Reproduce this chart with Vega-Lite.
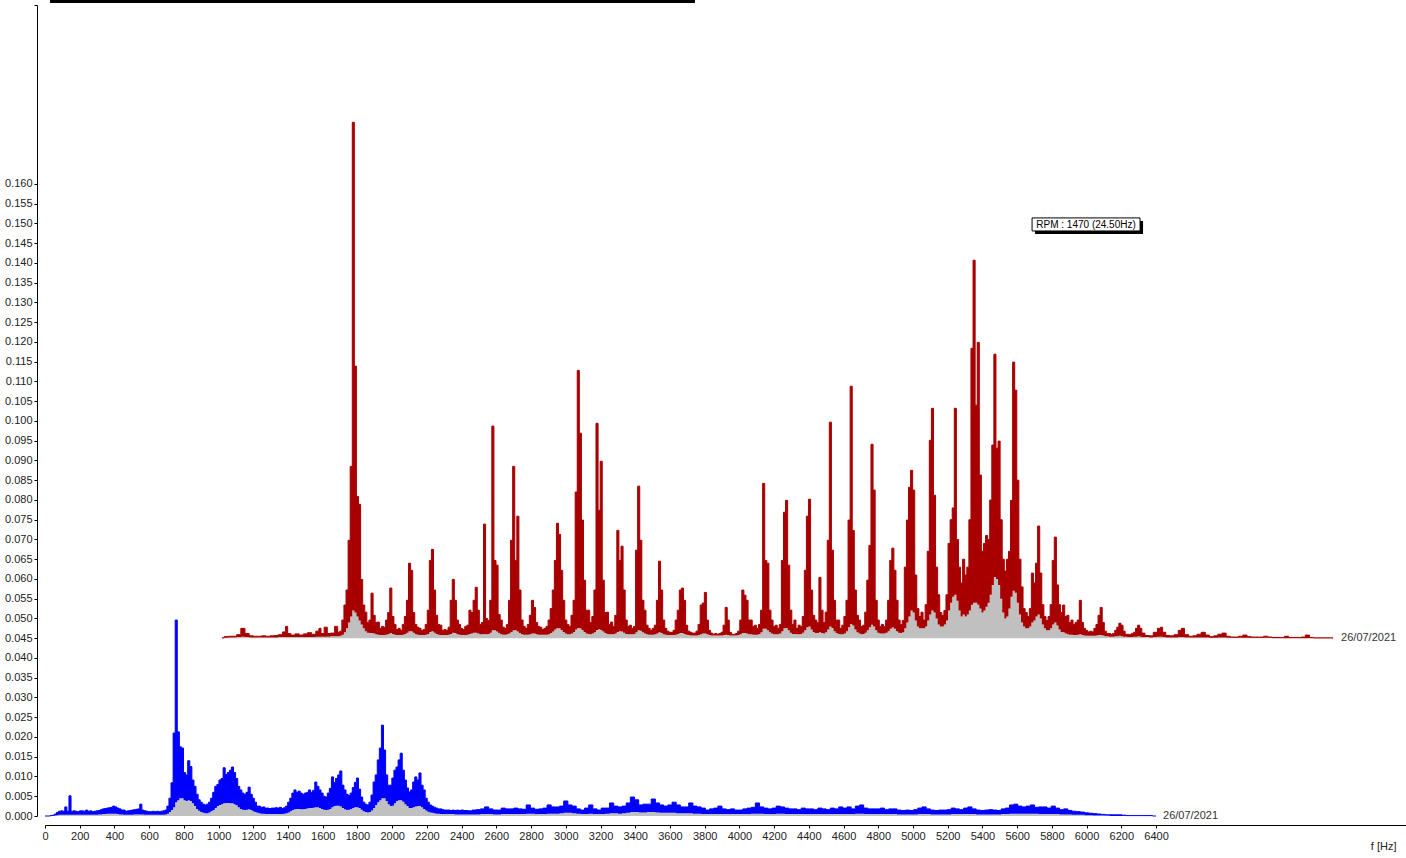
{
"$schema":"https://vega.github.io/schema/vega-lite/v6.json",
"width":1361,"height":811,
"autosize":{"type":"none"},
"padding":{"left":45,"top":5,"right":0,"bottom":42},
"background":"white",
"config":{"view":{"stroke":null},"font":"Liberation Sans","axis":{"labelFont":"Liberation Sans","titleFont":"Liberation Sans"}},
"datasets":{
"blue":[{"f":0,"l":0,"h":0},{"f":12,"l":0,"h":0},{"f":24,"l":0,"h":0},{"f":36,"l":0,"h":0.0001},{"f":48,"l":0,"h":0.0002},{"f":60,"l":0.0001,"h":0.0005},{"f":72,"l":0.0002,"h":0.0009},{"f":84,"l":0.0003,"h":0.0012},{"f":96,"l":0.0003,"h":0.0013},{"f":108,"l":0.0003,"h":0.0012},{"f":120,"l":0.0003,"h":0.0023},{"f":132,"l":0.0003,"h":0.0012},{"f":144,"l":0.0003,"h":0.0051},{"f":156,"l":0.0003,"h":0.0012},{"f":168,"l":0.0003,"h":0.0013},{"f":180,"l":0.0003,"h":0.0012},{"f":192,"l":0.0003,"h":0.0011},{"f":204,"l":0.0003,"h":0.0013},{"f":216,"l":0.0003,"h":0.0013},{"f":228,"l":0.0003,"h":0.0012},{"f":240,"l":0.0003,"h":0.0015},{"f":252,"l":0.0003,"h":0.0012},{"f":264,"l":0.0003,"h":0.0013},{"f":276,"l":0.0003,"h":0.0011},{"f":288,"l":0.0003,"h":0.0012},{"f":300,"l":0.0003,"h":0.0013},{"f":312,"l":0.0004,"h":0.0014},{"f":324,"l":0.0004,"h":0.0016},{"f":336,"l":0.0005,"h":0.0018},{"f":348,"l":0.0005,"h":0.0019},{"f":360,"l":0.0006,"h":0.002},{"f":372,"l":0.0006,"h":0.0021},{"f":384,"l":0.0006,"h":0.0022},{"f":396,"l":0.0006,"h":0.0025},{"f":408,"l":0.0006,"h":0.0023},{"f":420,"l":0.0005,"h":0.002},{"f":432,"l":0.0004,"h":0.0018},{"f":444,"l":0.0004,"h":0.0015},{"f":456,"l":0.0003,"h":0.0015},{"f":468,"l":0.0003,"h":0.0012},{"f":480,"l":0.0003,"h":0.0013},{"f":492,"l":0.0003,"h":0.0014},{"f":504,"l":0.0003,"h":0.0015},{"f":516,"l":0.0004,"h":0.0016},{"f":528,"l":0.0004,"h":0.0017},{"f":540,"l":0.0004,"h":0.0018},{"f":552,"l":0.0004,"h":0.003},{"f":564,"l":0.0004,"h":0.0015},{"f":576,"l":0.0003,"h":0.0013},{"f":588,"l":0.0003,"h":0.0012},{"f":600,"l":0.0003,"h":0.0011},{"f":612,"l":0.0003,"h":0.0011},{"f":624,"l":0.0003,"h":0.0012},{"f":636,"l":0.0003,"h":0.0011},{"f":648,"l":0.0003,"h":0.0012},{"f":660,"l":0.0003,"h":0.0011},{"f":672,"l":0.0003,"h":0.0012},{"f":684,"l":0.0003,"h":0.0013},{"f":696,"l":0.0004,"h":0.0015},{"f":708,"l":0.0006,"h":0.0025},{"f":720,"l":0.001,"h":0.0045},{"f":732,"l":0.0015,"h":0.0084},{"f":744,"l":0.0022,"h":0.021},{"f":756,"l":0.0035,"h":0.0496},{"f":768,"l":0.004,"h":0.0213},{"f":780,"l":0.0045,"h":0.0175},{"f":792,"l":0.0045,"h":0.0172},{"f":804,"l":0.004,"h":0.011},{"f":816,"l":0.0038,"h":0.0104},{"f":828,"l":0.004,"h":0.014},{"f":840,"l":0.0038,"h":0.0125},{"f":852,"l":0.0032,"h":0.0091},{"f":864,"l":0.0025,"h":0.0075},{"f":876,"l":0.0018,"h":0.0055},{"f":888,"l":0.0013,"h":0.0041},{"f":900,"l":0.001,"h":0.0035},{"f":912,"l":0.0008,"h":0.003},{"f":924,"l":0.0007,"h":0.0028},{"f":936,"l":0.0007,"h":0.003},{"f":948,"l":0.0009,"h":0.0035},{"f":960,"l":0.0012,"h":0.0045},{"f":972,"l":0.0015,"h":0.006},{"f":984,"l":0.002,"h":0.0075},{"f":996,"l":0.0025,"h":0.008},{"f":1008,"l":0.0028,"h":0.0091},{"f":1020,"l":0.003,"h":0.0095},{"f":1032,"l":0.0032,"h":0.0122},{"f":1044,"l":0.0033,"h":0.0105},{"f":1056,"l":0.0033,"h":0.011},{"f":1068,"l":0.0032,"h":0.0116},{"f":1080,"l":0.0032,"h":0.0124},{"f":1092,"l":0.003,"h":0.011},{"f":1104,"l":0.0027,"h":0.0095},{"f":1116,"l":0.0022,"h":0.0075},{"f":1128,"l":0.0018,"h":0.0066},{"f":1140,"l":0.0016,"h":0.0058},{"f":1152,"l":0.0015,"h":0.0055},{"f":1164,"l":0.0016,"h":0.006},{"f":1176,"l":0.0017,"h":0.0073},{"f":1188,"l":0.0015,"h":0.0055},{"f":1200,"l":0.0012,"h":0.0045},{"f":1212,"l":0.001,"h":0.0035},{"f":1224,"l":0.0008,"h":0.0025},{"f":1236,"l":0.0007,"h":0.0025},{"f":1248,"l":0.0006,"h":0.0022},{"f":1260,"l":0.0006,"h":0.0023},{"f":1272,"l":0.0005,"h":0.002},{"f":1284,"l":0.0005,"h":0.002},{"f":1296,"l":0.0005,"h":0.0019},{"f":1308,"l":0.0005,"h":0.002},{"f":1320,"l":0.0005,"h":0.002},{"f":1332,"l":0.0005,"h":0.0021},{"f":1344,"l":0.0005,"h":0.002},{"f":1356,"l":0.0005,"h":0.0022},{"f":1368,"l":0.0005,"h":0.0019},{"f":1380,"l":0.0006,"h":0.0021},{"f":1392,"l":0.0007,"h":0.0025},{"f":1404,"l":0.0009,"h":0.0035},{"f":1416,"l":0.0012,"h":0.0045},{"f":1428,"l":0.0015,"h":0.0058},{"f":1440,"l":0.0017,"h":0.0066},{"f":1452,"l":0.0018,"h":0.006},{"f":1464,"l":0.0018,"h":0.0063},{"f":1476,"l":0.0017,"h":0.0058},{"f":1488,"l":0.0017,"h":0.0055},{"f":1500,"l":0.0018,"h":0.0058},{"f":1512,"l":0.0019,"h":0.006},{"f":1524,"l":0.002,"h":0.0066},{"f":1536,"l":0.002,"h":0.006},{"f":1548,"l":0.0021,"h":0.0065},{"f":1560,"l":0.0022,"h":0.0086},{"f":1572,"l":0.0022,"h":0.0075},{"f":1584,"l":0.002,"h":0.0066},{"f":1596,"l":0.0018,"h":0.0058},{"f":1608,"l":0.0016,"h":0.005},{"f":1620,"l":0.0015,"h":0.0048},{"f":1632,"l":0.0016,"h":0.0058},{"f":1644,"l":0.0018,"h":0.007},{"f":1656,"l":0.0022,"h":0.0099},{"f":1668,"l":0.0025,"h":0.0085},{"f":1680,"l":0.0026,"h":0.0095},{"f":1692,"l":0.0026,"h":0.0104},{"f":1704,"l":0.0024,"h":0.0114},{"f":1716,"l":0.002,"h":0.0078},{"f":1728,"l":0.0017,"h":0.0066},{"f":1740,"l":0.0015,"h":0.0055},{"f":1752,"l":0.0016,"h":0.0052},{"f":1764,"l":0.0018,"h":0.0058},{"f":1776,"l":0.002,"h":0.0072},{"f":1788,"l":0.0022,"h":0.0085},{"f":1800,"l":0.0022,"h":0.0096},{"f":1812,"l":0.002,"h":0.0068},{"f":1824,"l":0.0016,"h":0.0048},{"f":1836,"l":0.0012,"h":0.0035},{"f":1848,"l":0.001,"h":0.003},{"f":1860,"l":0.0009,"h":0.0028},{"f":1872,"l":0.001,"h":0.0035},{"f":1884,"l":0.0014,"h":0.0053},{"f":1896,"l":0.002,"h":0.0086},{"f":1908,"l":0.0028,"h":0.0104},{"f":1920,"l":0.0035,"h":0.0142},{"f":1932,"l":0.004,"h":0.0172},{"f":1944,"l":0.0045,"h":0.023},{"f":1956,"l":0.0045,"h":0.0167},{"f":1968,"l":0.0038,"h":0.0104},{"f":1980,"l":0.003,"h":0.0078},{"f":1992,"l":0.0025,"h":0.0078},{"f":2004,"l":0.0026,"h":0.0096},{"f":2016,"l":0.0032,"h":0.0116},{"f":2028,"l":0.0038,"h":0.0124},{"f":2040,"l":0.004,"h":0.0142},{"f":2052,"l":0.004,"h":0.0159},{"f":2064,"l":0.0036,"h":0.0116},{"f":2076,"l":0.003,"h":0.0091},{"f":2088,"l":0.0025,"h":0.0071},{"f":2100,"l":0.002,"h":0.0061},{"f":2112,"l":0.002,"h":0.0066},{"f":2124,"l":0.0022,"h":0.0086},{"f":2136,"l":0.0024,"h":0.0099},{"f":2148,"l":0.0025,"h":0.0091},{"f":2160,"l":0.0025,"h":0.0109},{"f":2172,"l":0.0022,"h":0.0078},{"f":2184,"l":0.0018,"h":0.0066},{"f":2196,"l":0.0014,"h":0.0045},{"f":2208,"l":0.0011,"h":0.0035},{"f":2220,"l":0.0009,"h":0.0028},{"f":2232,"l":0.0008,"h":0.0025},{"f":2244,"l":0.0007,"h":0.0022},{"f":2256,"l":0.0006,"h":0.002},{"f":2268,"l":0.0006,"h":0.0018},{"f":2280,"l":0.0005,"h":0.0018},{"f":2292,"l":0.0005,"h":0.0016},{"f":2304,"l":0.0005,"h":0.0015},{"f":2316,"l":0.0005,"h":0.0015},{"f":2328,"l":0.0005,"h":0.0015},{"f":2340,"l":0.0005,"h":0.0014},{"f":2352,"l":0.0005,"h":0.0015},{"f":2364,"l":0.0004,"h":0.0014},{"f":2376,"l":0.0004,"h":0.0015},{"f":2388,"l":0.0004,"h":0.0014},{"f":2400,"l":0.0004,"h":0.0015},{"f":2424,"l":0.0004,"h":0.0014},{"f":2448,"l":0.0004,"h":0.0013},{"f":2472,"l":0.0004,"h":0.0015},{"f":2496,"l":0.0004,"h":0.0016},{"f":2520,"l":0.0005,"h":0.0018},{"f":2544,"l":0.0005,"h":0.0023},{"f":2568,"l":0.0005,"h":0.0018},{"f":2592,"l":0.0004,"h":0.0015},{"f":2616,"l":0.0004,"h":0.0015},{"f":2640,"l":0.0005,"h":0.002},{"f":2664,"l":0.0005,"h":0.0018},{"f":2688,"l":0.0005,"h":0.0018},{"f":2712,"l":0.0005,"h":0.002},{"f":2736,"l":0.0005,"h":0.0018},{"f":2760,"l":0.0005,"h":0.0017},{"f":2784,"l":0.0006,"h":0.0028},{"f":2808,"l":0.0006,"h":0.002},{"f":2832,"l":0.0005,"h":0.0017},{"f":2856,"l":0.0005,"h":0.0018},{"f":2880,"l":0.0005,"h":0.002},{"f":2904,"l":0.0006,"h":0.0028},{"f":2928,"l":0.0006,"h":0.0023},{"f":2952,"l":0.0006,"h":0.0023},{"f":2976,"l":0.0007,"h":0.0025},{"f":3000,"l":0.0008,"h":0.0038},{"f":3024,"l":0.0008,"h":0.0028},{"f":3048,"l":0.0007,"h":0.0025},{"f":3072,"l":0.0006,"h":0.0018},{"f":3096,"l":0.0005,"h":0.0015},{"f":3120,"l":0.0005,"h":0.002},{"f":3144,"l":0.0006,"h":0.0028},{"f":3168,"l":0.0005,"h":0.0018},{"f":3192,"l":0.0005,"h":0.0015},{"f":3216,"l":0.0005,"h":0.002},{"f":3240,"l":0.0006,"h":0.002},{"f":3264,"l":0.0007,"h":0.0033},{"f":3288,"l":0.0007,"h":0.0025},{"f":3312,"l":0.0006,"h":0.0023},{"f":3336,"l":0.0007,"h":0.0025},{"f":3360,"l":0.0008,"h":0.0033},{"f":3384,"l":0.001,"h":0.0048},{"f":3408,"l":0.001,"h":0.0041},{"f":3432,"l":0.0009,"h":0.0028},{"f":3456,"l":0.0009,"h":0.003},{"f":3480,"l":0.001,"h":0.003},{"f":3504,"l":0.001,"h":0.0043},{"f":3528,"l":0.0009,"h":0.0033},{"f":3552,"l":0.0008,"h":0.0028},{"f":3576,"l":0.0008,"h":0.0025},{"f":3600,"l":0.0008,"h":0.0028},{"f":3624,"l":0.0008,"h":0.0035},{"f":3648,"l":0.0007,"h":0.0028},{"f":3672,"l":0.0007,"h":0.0023},{"f":3696,"l":0.0007,"h":0.0023},{"f":3720,"l":0.0007,"h":0.0033},{"f":3744,"l":0.0006,"h":0.0025},{"f":3768,"l":0.0006,"h":0.0023},{"f":3792,"l":0.0005,"h":0.002},{"f":3816,"l":0.0005,"h":0.0015},{"f":3840,"l":0.0005,"h":0.0018},{"f":3864,"l":0.0005,"h":0.002},{"f":3888,"l":0.0005,"h":0.0025},{"f":3912,"l":0.0005,"h":0.0018},{"f":3936,"l":0.0005,"h":0.0016},{"f":3960,"l":0.0005,"h":0.0018},{"f":3984,"l":0.0005,"h":0.0015},{"f":4008,"l":0.0005,"h":0.0015},{"f":4032,"l":0.0005,"h":0.0018},{"f":4056,"l":0.0005,"h":0.002},{"f":4080,"l":0.0006,"h":0.0022},{"f":4104,"l":0.0006,"h":0.0033},{"f":4128,"l":0.0006,"h":0.0023},{"f":4152,"l":0.0005,"h":0.002},{"f":4176,"l":0.0005,"h":0.0018},{"f":4200,"l":0.0005,"h":0.002},{"f":4224,"l":0.0006,"h":0.0025},{"f":4248,"l":0.0006,"h":0.0023},{"f":4272,"l":0.0005,"h":0.002},{"f":4296,"l":0.0005,"h":0.0018},{"f":4320,"l":0.0005,"h":0.0018},{"f":4344,"l":0.0005,"h":0.0016},{"f":4368,"l":0.0005,"h":0.002},{"f":4392,"l":0.0005,"h":0.0018},{"f":4416,"l":0.0005,"h":0.0018},{"f":4440,"l":0.0005,"h":0.0016},{"f":4464,"l":0.0005,"h":0.002},{"f":4488,"l":0.0005,"h":0.0018},{"f":4512,"l":0.0005,"h":0.0016},{"f":4536,"l":0.0005,"h":0.002},{"f":4560,"l":0.0005,"h":0.0018},{"f":4584,"l":0.0005,"h":0.0023},{"f":4608,"l":0.0005,"h":0.002},{"f":4632,"l":0.0005,"h":0.0023},{"f":4656,"l":0.0005,"h":0.0018},{"f":4680,"l":0.0006,"h":0.0025},{"f":4704,"l":0.0006,"h":0.0028},{"f":4728,"l":0.0005,"h":0.002},{"f":4752,"l":0.0005,"h":0.0018},{"f":4776,"l":0.0005,"h":0.0018},{"f":4800,"l":0.0005,"h":0.0018},{"f":4824,"l":0.0005,"h":0.002},{"f":4848,"l":0.0005,"h":0.0016},{"f":4872,"l":0.0005,"h":0.0018},{"f":4896,"l":0.0005,"h":0.0018},{"f":4920,"l":0.0004,"h":0.0015},{"f":4944,"l":0.0004,"h":0.0014},{"f":4968,"l":0.0004,"h":0.0015},{"f":4992,"l":0.0004,"h":0.0014},{"f":5016,"l":0.0004,"h":0.0016},{"f":5040,"l":0.0005,"h":0.002},{"f":5064,"l":0.0005,"h":0.0023},{"f":5088,"l":0.0005,"h":0.0018},{"f":5112,"l":0.0004,"h":0.0015},{"f":5136,"l":0.0004,"h":0.0014},{"f":5160,"l":0.0004,"h":0.0015},{"f":5184,"l":0.0004,"h":0.0015},{"f":5208,"l":0.0004,"h":0.0016},{"f":5232,"l":0.0005,"h":0.002},{"f":5256,"l":0.0005,"h":0.0018},{"f":5280,"l":0.0005,"h":0.0016},{"f":5304,"l":0.0005,"h":0.002},{"f":5328,"l":0.0005,"h":0.0023},{"f":5352,"l":0.0005,"h":0.0018},{"f":5376,"l":0.0004,"h":0.0015},{"f":5400,"l":0.0004,"h":0.0014},{"f":5424,"l":0.0004,"h":0.0015},{"f":5448,"l":0.0004,"h":0.0016},{"f":5472,"l":0.0004,"h":0.0015},{"f":5496,"l":0.0004,"h":0.0014},{"f":5520,"l":0.0005,"h":0.0018},{"f":5544,"l":0.0005,"h":0.002},{"f":5568,"l":0.0006,"h":0.0028},{"f":5592,"l":0.0006,"h":0.003},{"f":5616,"l":0.0006,"h":0.0025},{"f":5640,"l":0.0006,"h":0.0023},{"f":5664,"l":0.0006,"h":0.0025},{"f":5688,"l":0.0006,"h":0.0028},{"f":5712,"l":0.0006,"h":0.0022},{"f":5736,"l":0.0005,"h":0.0023},{"f":5760,"l":0.0005,"h":0.0023},{"f":5784,"l":0.0005,"h":0.002},{"f":5808,"l":0.0005,"h":0.0025},{"f":5832,"l":0.0005,"h":0.002},{"f":5856,"l":0.0004,"h":0.0016},{"f":5880,"l":0.0004,"h":0.0018},{"f":5904,"l":0.0004,"h":0.0014},{"f":5928,"l":0.0003,"h":0.0012},{"f":5952,"l":0.0003,"h":0.0011},{"f":5976,"l":0.0003,"h":0.001},{"f":6000,"l":0.0002,"h":0.0008},{"f":6024,"l":0.0002,"h":0.0007},{"f":6048,"l":0.0001,"h":0.0006},{"f":6072,"l":0.0001,"h":0.0005},{"f":6096,"l":0.0001,"h":0.0004},{"f":6120,"l":0.0001,"h":0.0003},{"f":6144,"l":0,"h":0.0003},{"f":6168,"l":0,"h":0.0003},{"f":6192,"l":0,"h":0.0003},{"f":6216,"l":0,"h":0.0002},{"f":6240,"l":0,"h":0.0001},{"f":6264,"l":0,"h":0.0001},{"f":6288,"l":0,"h":0.0001},{"f":6312,"l":0,"h":0.0001},{"f":6336,"l":0,"h":0.0001},{"f":6360,"l":0,"h":0.0001},{"f":6400,"l":0,"h":0}],
"red":[{"f":0,"l":0,"h":0.0001},{"f":24,"l":0.0001,"h":0.0004},{"f":48,"l":0.0002,"h":0.0005},{"f":72,"l":0.0002,"h":0.0005},{"f":96,"l":0.0003,"h":0.0009},{"f":120,"l":0.0004,"h":0.0025},{"f":144,"l":0.0003,"h":0.0012},{"f":168,"l":0.0002,"h":0.0006},{"f":192,"l":0.0002,"h":0.0005},{"f":216,"l":0.0002,"h":0.0005},{"f":240,"l":0.0002,"h":0.0006},{"f":264,"l":0.0002,"h":0.0005},{"f":288,"l":0.0002,"h":0.0006},{"f":312,"l":0.0002,"h":0.0007},{"f":336,"l":0.0003,"h":0.0009},{"f":360,"l":0.0003,"h":0.0016},{"f":372,"l":0.0003,"h":0.003},{"f":384,"l":0.0003,"h":0.0012},{"f":408,"l":0.0003,"h":0.0008},{"f":432,"l":0.0003,"h":0.0011},{"f":456,"l":0.0003,"h":0.0008},{"f":480,"l":0.0003,"h":0.0011},{"f":504,"l":0.0003,"h":0.0014},{"f":528,"l":0.0003,"h":0.001},{"f":552,"l":0.0004,"h":0.0018},{"f":564,"l":0.0004,"h":0.0025},{"f":576,"l":0.0004,"h":0.0012},{"f":600,"l":0.0004,"h":0.0028},{"f":612,"l":0.0004,"h":0.0012},{"f":636,"l":0.0005,"h":0.0013},{"f":660,"l":0.0005,"h":0.003},{"f":672,"l":0.0005,"h":0.0015},{"f":684,"l":0.0006,"h":0.0018},{"f":696,"l":0.0009,"h":0.0046},{"f":708,"l":0.0015,"h":0.0084},{"f":720,"l":0.0025,"h":0.0122},{"f":732,"l":0.004,"h":0.0248},{"f":744,"l":0.0055,"h":0.0435},{"f":756,"l":0.007,"h":0.1306},{"f":768,"l":0.0065,"h":0.0689},{"f":780,"l":0.0055,"h":0.0359},{"f":792,"l":0.0045,"h":0.0339},{"f":804,"l":0.0035,"h":0.0149},{"f":816,"l":0.0025,"h":0.0084},{"f":828,"l":0.0018,"h":0.0066},{"f":840,"l":0.0014,"h":0.004},{"f":852,"l":0.0013,"h":0.0046},{"f":864,"l":0.0013,"h":0.0114},{"f":876,"l":0.0012,"h":0.0058},{"f":888,"l":0.001,"h":0.004},{"f":900,"l":0.0009,"h":0.0041},{"f":912,"l":0.0008,"h":0.0025},{"f":924,"l":0.0008,"h":0.003},{"f":936,"l":0.0008,"h":0.0028},{"f":948,"l":0.0009,"h":0.0046},{"f":960,"l":0.0011,"h":0.0065},{"f":972,"l":0.0013,"h":0.0127},{"f":984,"l":0.0011,"h":0.0055},{"f":996,"l":0.0009,"h":0.0035},{"f":1008,"l":0.0008,"h":0.0022},{"f":1020,"l":0.0008,"h":0.0025},{"f":1032,"l":0.0008,"h":0.002},{"f":1044,"l":0.0009,"h":0.0035},{"f":1056,"l":0.0011,"h":0.0055},{"f":1068,"l":0.0014,"h":0.0096},{"f":1080,"l":0.0018,"h":0.019},{"f":1092,"l":0.0018,"h":0.0172},{"f":1104,"l":0.0014,"h":0.0065},{"f":1116,"l":0.001,"h":0.0035},{"f":1128,"l":0.0009,"h":0.0028},{"f":1140,"l":0.0008,"h":0.0025},{"f":1152,"l":0.0008,"h":0.002},{"f":1164,"l":0.0008,"h":0.0022},{"f":1176,"l":0.0009,"h":0.0035},{"f":1188,"l":0.0011,"h":0.0071},{"f":1200,"l":0.0016,"h":0.0197},{"f":1212,"l":0.0018,"h":0.0225},{"f":1224,"l":0.0014,"h":0.0122},{"f":1236,"l":0.0011,"h":0.0058},{"f":1248,"l":0.0009,"h":0.0035},{"f":1260,"l":0.0008,"h":0.0033},{"f":1272,"l":0.0008,"h":0.002},{"f":1284,"l":0.0008,"h":0.0022},{"f":1296,"l":0.0008,"h":0.002},{"f":1308,"l":0.0009,"h":0.0028},{"f":1320,"l":0.0011,"h":0.0096},{"f":1332,"l":0.0014,"h":0.0149},{"f":1344,"l":0.0013,"h":0.0096},{"f":1356,"l":0.001,"h":0.0046},{"f":1368,"l":0.0009,"h":0.0035},{"f":1380,"l":0.0008,"h":0.0025},{"f":1392,"l":0.0008,"h":0.0022},{"f":1404,"l":0.0008,"h":0.003},{"f":1416,"l":0.0009,"h":0.0033},{"f":1428,"l":0.0011,"h":0.0071},{"f":1440,"l":0.0012,"h":0.0065},{"f":1452,"l":0.0014,"h":0.0096},{"f":1464,"l":0.0014,"h":0.0129},{"f":1476,"l":0.0012,"h":0.0071},{"f":1488,"l":0.001,"h":0.0035},{"f":1500,"l":0.001,"h":0.004},{"f":1512,"l":0.0011,"h":0.0289},{"f":1524,"l":0.001,"h":0.005},{"f":1536,"l":0.0011,"h":0.0045},{"f":1548,"l":0.0014,"h":0.0096},{"f":1560,"l":0.002,"h":0.0537},{"f":1572,"l":0.002,"h":0.0197},{"f":1584,"l":0.0017,"h":0.0185},{"f":1596,"l":0.0013,"h":0.006},{"f":1608,"l":0.001,"h":0.0046},{"f":1620,"l":0.0009,"h":0.0028},{"f":1632,"l":0.0009,"h":0.0025},{"f":1644,"l":0.001,"h":0.0035},{"f":1656,"l":0.0012,"h":0.0096},{"f":1668,"l":0.0016,"h":0.0248},{"f":1680,"l":0.002,"h":0.0435},{"f":1692,"l":0.002,"h":0.0197},{"f":1704,"l":0.0017,"h":0.0309},{"f":1716,"l":0.0013,"h":0.0122},{"f":1728,"l":0.001,"h":0.0046},{"f":1740,"l":0.0009,"h":0.003},{"f":1752,"l":0.0009,"h":0.0025},{"f":1764,"l":0.0009,"h":0.0035},{"f":1776,"l":0.001,"h":0.0058},{"f":1788,"l":0.0012,"h":0.0096},{"f":1800,"l":0.0012,"h":0.0078},{"f":1812,"l":0.001,"h":0.004},{"f":1824,"l":0.0009,"h":0.003},{"f":1836,"l":0.0009,"h":0.0028},{"f":1848,"l":0.0009,"h":0.0022},{"f":1860,"l":0.0009,"h":0.0025},{"f":1872,"l":0.0009,"h":0.003},{"f":1884,"l":0.001,"h":0.0046},{"f":1896,"l":0.0013,"h":0.0075},{"f":1908,"l":0.0017,"h":0.0122},{"f":1920,"l":0.0022,"h":0.0197},{"f":1932,"l":0.0025,"h":0.0291},{"f":1944,"l":0.0025,"h":0.0263},{"f":1956,"l":0.0021,"h":0.0172},{"f":1968,"l":0.0016,"h":0.0096},{"f":1980,"l":0.0012,"h":0.0046},{"f":1992,"l":0.001,"h":0.0035},{"f":2004,"l":0.001,"h":0.003},{"f":2016,"l":0.0012,"h":0.0058},{"f":2028,"l":0.0016,"h":0.0096},{"f":2040,"l":0.0022,"h":0.037},{"f":2052,"l":0.0026,"h":0.0678},{"f":2064,"l":0.0025,"h":0.0519},{"f":2076,"l":0.0021,"h":0.0299},{"f":2088,"l":0.0016,"h":0.0147},{"f":2100,"l":0.0012,"h":0.0071},{"f":2112,"l":0.0011,"h":0.0071},{"f":2124,"l":0.001,"h":0.004},{"f":2136,"l":0.0012,"h":0.0055},{"f":2148,"l":0.0015,"h":0.0122},{"f":2160,"l":0.0021,"h":0.0544},{"f":2172,"l":0.0023,"h":0.0324},{"f":2184,"l":0.0021,"h":0.0448},{"f":2196,"l":0.0017,"h":0.0147},{"f":2208,"l":0.0013,"h":0.0065},{"f":2220,"l":0.0011,"h":0.0066},{"f":2232,"l":0.001,"h":0.0035},{"f":2244,"l":0.001,"h":0.0041},{"f":2256,"l":0.001,"h":0.003},{"f":2268,"l":0.0012,"h":0.0058},{"f":2280,"l":0.0016,"h":0.0273},{"f":2292,"l":0.0018,"h":0.0197},{"f":2304,"l":0.0017,"h":0.0233},{"f":2316,"l":0.0014,"h":0.0122},{"f":2328,"l":0.0011,"h":0.0046},{"f":2340,"l":0.001,"h":0.003},{"f":2352,"l":0.001,"h":0.0033},{"f":2364,"l":0.001,"h":0.0025},{"f":2376,"l":0.0011,"h":0.003},{"f":2388,"l":0.0015,"h":0.0223},{"f":2400,"l":0.002,"h":0.0385},{"f":2412,"l":0.0019,"h":0.0248},{"f":2424,"l":0.0015,"h":0.0096},{"f":2436,"l":0.0012,"h":0.0071},{"f":2448,"l":0.001,"h":0.0033},{"f":2460,"l":0.0009,"h":0.0025},{"f":2472,"l":0.0009,"h":0.002},{"f":2484,"l":0.0009,"h":0.0025},{"f":2496,"l":0.001,"h":0.0033},{"f":2508,"l":0.0012,"h":0.0096},{"f":2520,"l":0.0015,"h":0.0195},{"f":2532,"l":0.0013,"h":0.0122},{"f":2544,"l":0.001,"h":0.0046},{"f":2556,"l":0.0009,"h":0.0025},{"f":2568,"l":0.0008,"h":0.0018},{"f":2580,"l":0.0008,"h":0.0015},{"f":2592,"l":0.0008,"h":0.0015},{"f":2604,"l":0.0008,"h":0.002},{"f":2616,"l":0.0009,"h":0.0046},{"f":2628,"l":0.0011,"h":0.0071},{"f":2640,"l":0.0013,"h":0.0122},{"f":2652,"l":0.0013,"h":0.0127},{"f":2664,"l":0.0011,"h":0.0096},{"f":2676,"l":0.0009,"h":0.0033},{"f":2688,"l":0.0008,"h":0.0018},{"f":2700,"l":0.0007,"h":0.0015},{"f":2712,"l":0.0007,"h":0.0013},{"f":2724,"l":0.0007,"h":0.0013},{"f":2736,"l":0.0007,"h":0.0018},{"f":2748,"l":0.0008,"h":0.0035},{"f":2760,"l":0.001,"h":0.0084},{"f":2772,"l":0.0012,"h":0.0089},{"f":2784,"l":0.0012,"h":0.0116},{"f":2796,"l":0.001,"h":0.0046},{"f":2808,"l":0.0008,"h":0.002},{"f":2820,"l":0.0007,"h":0.0013},{"f":2832,"l":0.0007,"h":0.001},{"f":2844,"l":0.0007,"h":0.0012},{"f":2856,"l":0.0007,"h":0.001},{"f":2868,"l":0.0007,"h":0.0012},{"f":2880,"l":0.0007,"h":0.0015},{"f":2892,"l":0.0008,"h":0.0033},{"f":2904,"l":0.0009,"h":0.0078},{"f":2916,"l":0.0008,"h":0.0046},{"f":2928,"l":0.0007,"h":0.0015},{"f":2940,"l":0.0007,"h":0.001},{"f":2952,"l":0.0007,"h":0.001},{"f":2964,"l":0.0007,"h":0.0012},{"f":2976,"l":0.0008,"h":0.0018},{"f":2988,"l":0.001,"h":0.0046},{"f":3000,"l":0.0013,"h":0.0122},{"f":3012,"l":0.0013,"h":0.0109},{"f":3024,"l":0.0012,"h":0.0096},{"f":3036,"l":0.001,"h":0.0046},{"f":3048,"l":0.001,"h":0.0046},{"f":3060,"l":0.0009,"h":0.003},{"f":3072,"l":0.0009,"h":0.0033},{"f":3084,"l":0.0009,"h":0.0025},{"f":3096,"l":0.0011,"h":0.0035},{"f":3108,"l":0.0015,"h":0.0071},{"f":3120,"l":0.0024,"h":0.0392},{"f":3132,"l":0.0024,"h":0.0197},{"f":3144,"l":0.002,"h":0.019},{"f":3156,"l":0.0015,"h":0.0071},{"f":3168,"l":0.0012,"h":0.0046},{"f":3180,"l":0.001,"h":0.003},{"f":3192,"l":0.001,"h":0.0033},{"f":3204,"l":0.001,"h":0.0025},{"f":3216,"l":0.0012,"h":0.0035},{"f":3228,"l":0.0018,"h":0.0197},{"f":3240,"l":0.0025,"h":0.0319},{"f":3252,"l":0.0026,"h":0.0349},{"f":3264,"l":0.002,"h":0.0185},{"f":3276,"l":0.0014,"h":0.0071},{"f":3288,"l":0.0011,"h":0.0035},{"f":3300,"l":0.0011,"h":0.0046},{"f":3312,"l":0.001,"h":0.0025},{"f":3324,"l":0.001,"h":0.0033},{"f":3336,"l":0.0011,"h":0.003},{"f":3348,"l":0.0014,"h":0.0055},{"f":3360,"l":0.002,"h":0.0172},{"f":3372,"l":0.0028,"h":0.0309},{"f":3384,"l":0.003,"h":0.0352},{"f":3396,"l":0.0022,"h":0.0122},{"f":3408,"l":0.0016,"h":0.0058},{"f":3420,"l":0.0013,"h":0.0046},{"f":3432,"l":0.0013,"h":0.004},{"f":3444,"l":0.0015,"h":0.0154},{"f":3456,"l":0.0013,"h":0.0071},{"f":3468,"l":0.0012,"h":0.004},{"f":3480,"l":0.0015,"h":0.0066},{"f":3492,"l":0.0022,"h":0.0248},{"f":3504,"l":0.003,"h":0.0547},{"f":3516,"l":0.0026,"h":0.0223},{"f":3528,"l":0.0018,"h":0.0096},{"f":3540,"l":0.0013,"h":0.0046},{"f":3552,"l":0.0011,"h":0.0046},{"f":3564,"l":0.001,"h":0.0025},{"f":3576,"l":0.001,"h":0.0033},{"f":3588,"l":0.0012,"h":0.0055},{"f":3600,"l":0.0018,"h":0.0096},{"f":3612,"l":0.0028,"h":0.0299},{"f":3624,"l":0.0036,"h":0.0638},{"f":3636,"l":0.0032,"h":0.0273},{"f":3648,"l":0.0022,"h":0.0122},{"f":3660,"l":0.0015,"h":0.0058},{"f":3672,"l":0.0012,"h":0.0046},{"f":3684,"l":0.001,"h":0.003},{"f":3696,"l":0.0011,"h":0.0033},{"f":3708,"l":0.0014,"h":0.0066},{"f":3720,"l":0.002,"h":0.0147},{"f":3732,"l":0.0028,"h":0.0235},{"f":3744,"l":0.0034,"h":0.0491},{"f":3756,"l":0.003,"h":0.0375},{"f":3768,"l":0.002,"h":0.0096},{"f":3780,"l":0.0014,"h":0.0046},{"f":3792,"l":0.0012,"h":0.003},{"f":3804,"l":0.0012,"h":0.0035},{"f":3816,"l":0.0012,"h":0.003},{"f":3828,"l":0.0014,"h":0.0046},{"f":3840,"l":0.0018,"h":0.0096},{"f":3852,"l":0.0024,"h":0.0197},{"f":3864,"l":0.0027,"h":0.0228},{"f":3876,"l":0.0024,"h":0.0172},{"f":3888,"l":0.0018,"h":0.0096},{"f":3900,"l":0.0014,"h":0.0046},{"f":3912,"l":0.0013,"h":0.0035},{"f":3924,"l":0.0015,"h":0.0045},{"f":3936,"l":0.0025,"h":0.018},{"f":3948,"l":0.004,"h":0.0299},{"f":3960,"l":0.0055,"h":0.0382},{"f":3972,"l":0.007,"h":0.0425},{"f":3984,"l":0.0065,"h":0.0375},{"f":3996,"l":0.0045,"h":0.016},{"f":4008,"l":0.003,"h":0.0075},{"f":4020,"l":0.0025,"h":0.0055},{"f":4032,"l":0.0025,"h":0.0066},{"f":4044,"l":0.0025,"h":0.0046},{"f":4056,"l":0.003,"h":0.0085},{"f":4068,"l":0.0045,"h":0.022},{"f":4080,"l":0.006,"h":0.0501},{"f":4092,"l":0.007,"h":0.0582},{"f":4104,"l":0.0065,"h":0.0362},{"f":4116,"l":0.005,"h":0.018},{"f":4128,"l":0.0035,"h":0.011},{"f":4140,"l":0.003,"h":0.0065},{"f":4152,"l":0.003,"h":0.0058},{"f":4164,"l":0.0035,"h":0.007},{"f":4176,"l":0.0045,"h":0.011},{"f":4188,"l":0.007,"h":0.024},{"f":4200,"l":0.009,"h":0.03},{"f":4212,"l":0.0105,"h":0.033},{"f":4224,"l":0.011,"h":0.0582},{"f":4236,"l":0.0095,"h":0.025},{"f":4248,"l":0.007,"h":0.018},{"f":4260,"l":0.0055,"h":0.014},{"f":4272,"l":0.006,"h":0.02},{"f":4284,"l":0.0055,"h":0.016},{"f":4296,"l":0.006,"h":0.018},{"f":4308,"l":0.007,"h":0.03},{"f":4320,"l":0.0085,"h":0.0734},{"f":4332,"l":0.009,"h":0.0957},{"f":4344,"l":0.009,"h":0.059},{"f":4356,"l":0.0085,"h":0.0749},{"f":4368,"l":0.0075,"h":0.0413},{"f":4380,"l":0.0065,"h":0.022},{"f":4392,"l":0.007,"h":0.024},{"f":4404,"l":0.008,"h":0.026},{"f":4416,"l":0.009,"h":0.025},{"f":4428,"l":0.011,"h":0.035},{"f":4440,"l":0.0135,"h":0.0489},{"f":4452,"l":0.0155,"h":0.0719},{"f":4464,"l":0.015,"h":0.0481},{"f":4476,"l":0.0135,"h":0.0499},{"f":4488,"l":0.01,"h":0.03},{"f":4500,"l":0.0065,"h":0.02},{"f":4512,"l":0.005,"h":0.017},{"f":4524,"l":0.0055,"h":0.02},{"f":4536,"l":0.0075,"h":0.022},{"f":4548,"l":0.0105,"h":0.0349},{"f":4560,"l":0.012,"h":0.0699},{"f":4572,"l":0.0115,"h":0.0628},{"f":4584,"l":0.009,"h":0.04},{"f":4596,"l":0.006,"h":0.02},{"f":4608,"l":0.004,"h":0.013},{"f":4620,"l":0.003,"h":0.0075},{"f":4632,"l":0.0025,"h":0.0065},{"f":4644,"l":0.0025,"h":0.0055},{"f":4656,"l":0.003,"h":0.0075},{"f":4668,"l":0.004,"h":0.0165},{"f":4680,"l":0.0045,"h":0.014},{"f":4692,"l":0.0055,"h":0.019},{"f":4704,"l":0.006,"h":0.0284},{"f":4716,"l":0.005,"h":0.0165},{"f":4728,"l":0.0035,"h":0.0085},{"f":4740,"l":0.0025,"h":0.0055},{"f":4752,"l":0.002,"h":0.0045},{"f":4764,"l":0.002,"h":0.0055},{"f":4776,"l":0.0025,"h":0.0085},{"f":4788,"l":0.0035,"h":0.0197},{"f":4800,"l":0.004,"h":0.0256},{"f":4812,"l":0.0032,"h":0.0135},{"f":4824,"l":0.0022,"h":0.0085},{"f":4836,"l":0.0016,"h":0.0065},{"f":4848,"l":0.0015,"h":0.0084},{"f":4860,"l":0.0012,"h":0.0055},{"f":4872,"l":0.001,"h":0.0058},{"f":4884,"l":0.0009,"h":0.004},{"f":4896,"l":0.0009,"h":0.0046},{"f":4908,"l":0.0008,"h":0.0035},{"f":4920,"l":0.0008,"h":0.004},{"f":4932,"l":0.0009,"h":0.0046},{"f":4944,"l":0.001,"h":0.0096},{"f":4956,"l":0.0008,"h":0.004},{"f":4968,"l":0.0007,"h":0.0025},{"f":4980,"l":0.0006,"h":0.002},{"f":4992,"l":0.0006,"h":0.0016},{"f":5004,"l":0.0006,"h":0.0018},{"f":5016,"l":0.0006,"h":0.0016},{"f":5028,"l":0.0006,"h":0.0025},{"f":5040,"l":0.0007,"h":0.0035},{"f":5052,"l":0.0008,"h":0.0058},{"f":5064,"l":0.0008,"h":0.0078},{"f":5076,"l":0.0007,"h":0.004},{"f":5088,"l":0.0005,"h":0.0018},{"f":5100,"l":0.0005,"h":0.0012},{"f":5112,"l":0.0004,"h":0.0012},{"f":5124,"l":0.0004,"h":0.001},{"f":5136,"l":0.0004,"h":0.0012},{"f":5148,"l":0.0005,"h":0.002},{"f":5160,"l":0.0005,"h":0.0028},{"f":5172,"l":0.0006,"h":0.0038},{"f":5184,"l":0.0005,"h":0.0033},{"f":5196,"l":0.0004,"h":0.0018},{"f":5208,"l":0.0004,"h":0.001},{"f":5220,"l":0.0003,"h":0.001},{"f":5232,"l":0.0003,"h":0.0009},{"f":5244,"l":0.0003,"h":0.0012},{"f":5256,"l":0.0004,"h":0.0015},{"f":5268,"l":0.0004,"h":0.0025},{"f":5280,"l":0.0005,"h":0.0033},{"f":5292,"l":0.0004,"h":0.0025},{"f":5304,"l":0.0003,"h":0.0013},{"f":5328,"l":0.0003,"h":0.0007},{"f":5352,"l":0.0002,"h":0.0006},{"f":5376,"l":0.0003,"h":0.0015},{"f":5400,"l":0.0004,"h":0.0025},{"f":5412,"l":0.0004,"h":0.0028},{"f":5424,"l":0.0003,"h":0.0015},{"f":5448,"l":0.0002,"h":0.0007},{"f":5472,"l":0.0002,"h":0.0006},{"f":5496,"l":0.0002,"h":0.0009},{"f":5520,"l":0.0003,"h":0.002},{"f":5532,"l":0.0003,"h":0.0025},{"f":5556,"l":0.0002,"h":0.0009},{"f":5580,"l":0.0002,"h":0.0005},{"f":5604,"l":0.0002,"h":0.0006},{"f":5628,"l":0.0002,"h":0.001},{"f":5652,"l":0.0002,"h":0.0015},{"f":5676,"l":0.0002,"h":0.0008},{"f":5700,"l":0.0001,"h":0.0004},{"f":5724,"l":0.0001,"h":0.0006},{"f":5748,"l":0.0002,"h":0.001},{"f":5772,"l":0.0002,"h":0.0013},{"f":5796,"l":0.0001,"h":0.0005},{"f":5820,"l":0.0001,"h":0.0003},{"f":5844,"l":0.0001,"h":0.0003},{"f":5868,"l":0.0001,"h":0.0005},{"f":5892,"l":0.0001,"h":0.0008},{"f":5916,"l":0.0001,"h":0.0004},{"f":5940,"l":0.0001,"h":0.0003},{"f":5964,"l":0.0001,"h":0.0003},{"f":5988,"l":0.0001,"h":0.0003},{"f":6012,"l":0.0001,"h":0.0005},{"f":6036,"l":0.0001,"h":0.0003},{"f":6060,"l":0,"h":0.0002},{"f":6084,"l":0,"h":0.0002},{"f":6108,"l":0,"h":0.0002},{"f":6132,"l":0,"h":0.0005},{"f":6156,"l":0,"h":0.0002},{"f":6180,"l":0,"h":0.0002},{"f":6204,"l":0,"h":0.0002},{"f":6228,"l":0,"h":0.0003},{"f":6252,"l":0,"h":0.0008},{"f":6276,"l":0,"h":0.0002},{"f":6300,"l":0,"h":0.0001},{"f":6324,"l":0,"h":0.0001},{"f":6348,"l":0,"h":0.0001},{"f":6372,"l":0,"h":0.0001},{"f":6400,"l":0,"h":0.0001}]
},
"layer":[
{
"encoding":{
"x":{"field":"f","type":"quantitative","scale":{"domain":[0,7840],"nice":false,"zero":false},
"axis":{"values":[0,200,400,600,800,1000,1200,1400,1600,1800,2000,2200,2400,2600,2800,3000,3200,3400,3600,3800,4000,4200,4400,4600,4800,5000,5200,5400,5600,5800,6000,6200,6400],
"format":"d","offset":9,"grid":false,"domainColor":"#000000","tickColor":"#000000","tickSize":3,"labelColor":"#222222","labelFontSize":11,"labelPadding":2,"labelFlush":false,"labelOverlap":false,
"title":"f [Hz]","titleFontSize":11,"titleFontWeight":"normal","titleColor":"#222222","titleX":1351,"titleY":21,"titleAlign":"right","titleBaseline":"middle","titleAnchor":"end"}},
"y":{"field":"h","type":"quantitative","scale":{"domain":[0,0.2053],"nice":false,"zero":false},
"axis":{"values":[0,0.005,0.01,0.015,0.02,0.025,0.03,0.035,0.04,0.045,0.05,0.055,0.06,0.065,0.07,0.075,0.08,0.085,0.09,0.095,0.1,0.105,0.11,0.115,0.12,0.125,0.13,0.135,0.14,0.145,0.15,0.155,0.16,0.2053],
"format":".3f","labelExpr":"datum.value > 0.17 ? '' : datum.label","offset":8,"grid":false,"domainColor":"#000000","tickColor":"#000000","tickSize":3,"labelColor":"#222222","labelFontSize":11,"labelPadding":2,"labelOverlap":false,"labelFlush":false,"title":null}}
},
"layer":[
{"data":{"name":"blue"},"mark":{"type":"area","color":"#c0c0c0","interpolate":"step"},"encoding":{"y":{"field":"l","type":"quantitative","title":null},"y2":{"datum":0}}},
{"data":{"name":"blue"},"mark":{"type":"area","color":"#0000ff","interpolate":"step"},"encoding":{"y2":{"field":"l"}}},
{"data":{"name":"blue"},"mark":{"type":"line","color":"#0000ff","strokeWidth":1,"interpolate":"step"}},
{"data":{"values":[{"f":6400,"h":0,"t":"26/07/2021"}]},"mark":{"type":"text","align":"left","baseline":"middle","dx":7,"fontSize":11,"color":"#333333","font":"Liberation Sans"},"encoding":{"text":{"field":"t"}}},
{"data":{"values":[{"f":5686,"f2":6308,"h":0.1514,"h2":0.1481}]},"mark":{"type":"rect","color":"#000000","xOffset":3,"x2Offset":3,"yOffset":3,"y2Offset":3},"encoding":{"x2":{"field":"f2"},"y2":{"field":"h2"}}},
{"data":{"values":[{"f":5686,"f2":6308,"h":0.1514,"h2":0.1481}]},"mark":{"type":"rect","fill":"#ffffff","stroke":"#000000","strokeWidth":1},"encoding":{"x2":{"field":"f2"},"y2":{"field":"h2"}}},
{"data":{"values":[{"f":5997,"h":0.1497,"t":"RPM : 1470 (24.50Hz)"}]},"mark":{"type":"text","align":"center","baseline":"middle","fontSize":10,"color":"#000000","font":"Liberation Sans"},"encoding":{"text":{"field":"t"}}},
{"data":{"values":[{"f":29,"f2":3744,"h":0.2053}]},"mark":{"type":"rule","color":"#000000","strokeWidth":3,"yOffset":-3.5},"encoding":{"x2":{"field":"f2"}}}
]
},
{
"encoding":{
"x":{"field":"f","type":"quantitative","scale":{"domain":[-1020,6820],"nice":false,"zero":false},"axis":null},
"y":{"field":"h","type":"quantitative","scale":{"domain":[-0.045,0.1603],"nice":false,"zero":false},"axis":null}
},
"layer":[
{"data":{"name":"red"},"mark":{"type":"area","color":"#c0c0c0","interpolate":"step"},"encoding":{"y":{"field":"l","type":"quantitative","axis":null},"y2":{"datum":0}}},
{"data":{"name":"red"},"mark":{"type":"area","color":"#a80000","interpolate":"step"},"encoding":{"y2":{"field":"l"}}},
{"data":{"name":"red"},"mark":{"type":"line","color":"#a80000","strokeWidth":1,"interpolate":"step"}},
{"data":{"values":[{"f":6400,"h":0,"t":"26/07/2021"}]},"mark":{"type":"text","align":"left","baseline":"middle","dx":8,"fontSize":11,"color":"#333333","font":"Liberation Sans"},"encoding":{"text":{"field":"t"}}}
]
}
],
"resolve":{"scale":{"x":"independent","y":"independent"}}
}
